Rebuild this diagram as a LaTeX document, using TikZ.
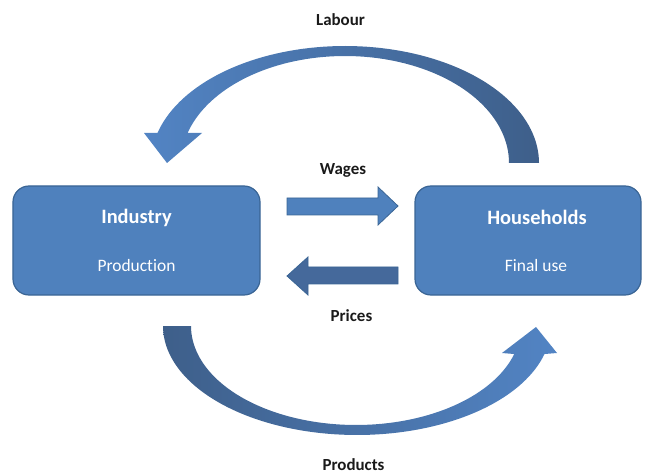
\documentclass[tikz,border=0pt]{standalone}
\usepackage{fontspec}
\setmainfont{Carlito}[Ligatures=NoCommon]
\definecolor{boxfill}{HTML}{4F81BD}
\definecolor{boxline}{HTML}{3A6595}
\definecolor{arcdark}{HTML}{3E5F8A}
\definecolor{arclight}{HTML}{5284C4}
\definecolor{wagesfill}{HTML}{4F81BD}
\definecolor{pricesfill}{HTML}{45699B}
\definecolor{labelink}{HTML}{1A1A1A}
\begin{document}
\begin{tikzpicture}[x=1bp,y=-1bp,
  sector/.style={draw=boxline, line width=1.2bp, fill=boxfill, rounded corners=16bp,
    inner sep=0pt},
  title/.style={text=white, font=\bfseries\fontsize{20.5}{22}\selectfont},
  subtitle/.style={text=white, font=\fontsize{17.5}{20}\selectfont},
  flowlabel/.style={text=labelink, font=\bfseries\fontsize{17}{20}\selectfont},
  blockarrow/.style={draw=boxline, line width=0.8bp, line join=miter}]

\path[use as bounding box] (0,0) rectangle (648,474);

% the two sectors
\node[sector, minimum width=247bp, minimum height=109bp] (industry) at (136.5,240.5) {};
\node[sector, minimum width=226bp, minimum height=109bp] (households) at (528,240.5) {};

\node[title] (industrytitle) at (136.5,218) {Industry};
\node[subtitle] (industrysub) at (136.5,266) {Production};
\node[title] (householdstitle) at (537,217) {Households};
\node[subtitle] (householdssub) at (536,266) {Final use};

% labour flows from households back to industry over the top
\path[shade, left color=arclight, right color=arcdark]
  plot[domain=0:165.1, samples=80] ({345+194*cos(\x)},{163-117*sin(\x)})
  -- (144,133) -- (167,163) -- (202,133) -- (188,133)
  -- plot[domain=163.7:0, samples=80] ({345+164*cos(\x)},{163-107*sin(\x)})
  -- cycle;

% products flow from industry to households underneath
\path[shade, left color=arcdark, right color=arclight]
  plot[domain=180:14.9, samples=80] ({357+194*cos(\x)},{326+109*sin(\x)})
  -- (557,353) -- (536,327) -- (502,353) -- (514,354)
  -- plot[domain=16.4:180, samples=80] ({356+165*cos(\x)},{326+99*sin(\x)})
  -- cycle;

% wages and prices between the sectors
\path[blockarrow, fill=wagesfill]
  (287,198) -- (378,198) -- (378,187) -- (398,206) -- (378,225) -- (378,215) -- (287,215) -- cycle;
\path[blockarrow, fill=pricesfill]
  (398,267) -- (308,267) -- (308,257) -- (287,276) -- (308,295) -- (308,284) -- (398,284) -- cycle;

% flow labels
\node[flowlabel] (labour) at (340.5,20) {Labour};
\node[flowlabel] (wages) at (343,170) {Wages};
\node[flowlabel] (prices) at (351.5,316) {Prices};
\node[flowlabel] (products) at (353.5,465) {Products};
\end{tikzpicture}
\end{document}
